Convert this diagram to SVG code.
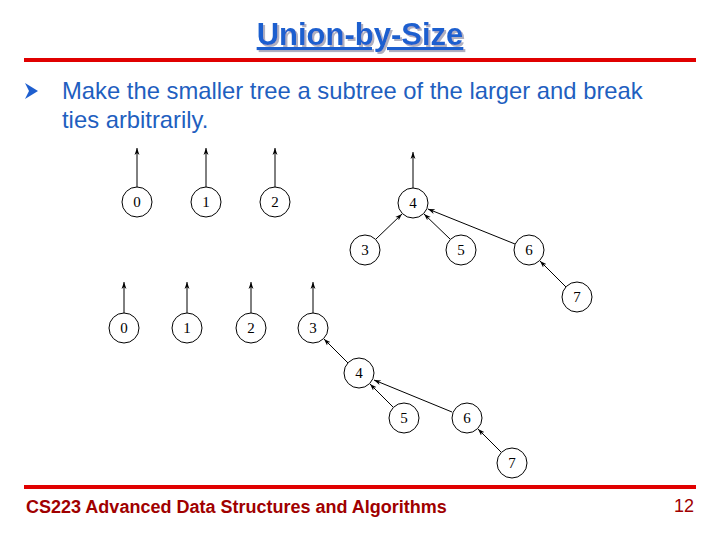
<svg xmlns="http://www.w3.org/2000/svg" width="720" height="540" viewBox="0 0 720 540">
<style>
.n circle{fill:#fff;stroke:#000;stroke-width:1}
.n text{font-family:"Liberation Serif",serif;font-size:15px;text-anchor:middle;fill:#000}
.e line{stroke:#000;stroke-width:1;marker-end:url(#ah)}
</style>
<defs>
<marker id="ah" viewBox="0 0 10 10" refX="10" refY="5" markerWidth="7" markerHeight="7" orient="auto" markerUnits="userSpaceOnUse">
<path d="M0,1.5 L10,5 L0,8.5 L3,5 Z" fill="#000"/>
</marker>
<filter id="sh" x="-5%" y="-20%" width="110%" height="140%">
<feDropShadow dx="2" dy="2" stdDeviation="0.5" flood-color="#b0b0c0"/>
</filter>
</defs>
<rect width="720" height="540" fill="#fff"/>
<text x="360" y="45" font-family="Liberation Sans,Arial,sans-serif" font-size="31" font-weight="bold" fill="#1f5fcf" text-anchor="middle" text-decoration="underline" filter="url(#sh)">Union-by-Size</text>
<rect x="24" y="58" width="672" height="4" fill="#e00000"/>
<path d="M25,83 L38,91 L25,99 L29,91 Z" fill="#1f5fcf"/>
<text font-family="Liberation Sans,Arial,sans-serif" font-size="23.8" fill="#1f5fbf"><tspan x="62" y="99">Make the smaller tree a subtree of the larger and break</tspan><tspan x="62" y="128">ties arbitrarily.</tspan></text>
<g id="connectors" class="e">
<line x1="137" y1="187" x2="137" y2="148"/>
<line x1="206" y1="187" x2="206" y2="148"/>
<line x1="275" y1="187" x2="275" y2="148"/>
<line x1="413" y1="188" x2="413" y2="152"/>
<line x1="376" y1="239" x2="402" y2="214"/>
<line x1="450" y1="239" x2="424" y2="214"/>
<line x1="515" y1="244" x2="428" y2="209"/>
<line x1="566" y1="287" x2="540" y2="261"/>
<line x1="124" y1="313" x2="124" y2="282"/>
<line x1="187" y1="313" x2="187" y2="282"/>
<line x1="251" y1="313" x2="251" y2="282"/>
<line x1="313" y1="313" x2="313" y2="282"/>
<line x1="348" y1="363" x2="324" y2="339"/>
<line x1="393" y1="407" x2="370" y2="384"/>
<line x1="452" y1="412" x2="374" y2="380"/>
<line x1="501" y1="452" x2="478" y2="429"/>
</g>
<g id="a0" class="n"><circle cx="137" cy="202" r="15"/><text x="137" y="207">0</text></g>
<g id="a1" class="n"><circle cx="206" cy="202" r="15"/><text x="206" y="207">1</text></g>
<g id="a2" class="n"><circle cx="275" cy="202" r="15"/><text x="275" y="207">2</text></g>
<g id="a4" class="n"><circle cx="413" cy="203" r="15"/><text x="413" y="208">4</text></g>
<g id="a3" class="n"><circle cx="365" cy="250" r="15"/><text x="365" y="255">3</text></g>
<g id="a5" class="n"><circle cx="461" cy="250" r="15"/><text x="461" y="255">5</text></g>
<g id="a6" class="n"><circle cx="529" cy="250" r="15"/><text x="529" y="255">6</text></g>
<g id="a7" class="n"><circle cx="577" cy="297" r="15"/><text x="577" y="302">7</text></g>
<g id="b0" class="n"><circle cx="124" cy="328" r="15"/><text x="124" y="333">0</text></g>
<g id="b1" class="n"><circle cx="187" cy="328" r="15"/><text x="187" y="333">1</text></g>
<g id="b2" class="n"><circle cx="251" cy="328" r="15"/><text x="251" y="333">2</text></g>
<g id="b3" class="n"><circle cx="313" cy="328" r="15"/><text x="313" y="333">3</text></g>
<g id="b4" class="n"><circle cx="359" cy="373" r="15"/><text x="359" y="378">4</text></g>
<g id="b5" class="n"><circle cx="404" cy="418" r="15"/><text x="404" y="423">5</text></g>
<g id="b6" class="n"><circle cx="467" cy="418" r="15"/><text x="467" y="423">6</text></g>
<g id="b7" class="n"><circle cx="512" cy="463" r="15"/><text x="512" y="468">7</text></g>
<rect x="24" y="485" width="672" height="4" fill="#e00000"/>
<text x="26" y="513" font-family="Liberation Sans,Arial,sans-serif" font-size="18" font-weight="bold" fill="#a00000">CS223 Advanced Data Structures and Algorithms</text>
<text x="694" y="512" font-family="Liberation Sans,Arial,sans-serif" font-size="18" fill="#a00000" text-anchor="end">12</text>
</svg>
